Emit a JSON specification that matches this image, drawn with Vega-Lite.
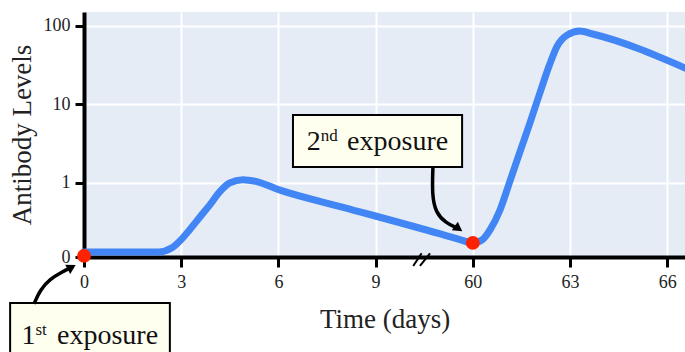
{
  "$schema": "https://vega.github.io/schema/vega-lite/v6.json",
  "width": 601,
  "height": 245,
  "autosize": {"type": "none"},
  "padding": {"left": 84, "top": 12, "right": 0, "bottom": 95},
  "background": "white",
  "config": {
    "view": {"fill": "#e5ecf6", "stroke": null},
    "font": "Liberation Serif",
    "axis": {
      "grid": true,
      "gridColor": "white",
      "gridWidth": 2,
      "domainColor": "black",
      "domainWidth": 4,
      "tickColor": "black",
      "tickWidth": 3,
      "labelFont": "Liberation Serif",
      "labelFontSize": 18,
      "labelColor": "#222",
      "titleFont": "Liberation Serif",
      "titleFontSize": 27,
      "titleFontWeight": "normal",
      "titleColor": "#222",
      "labelOverlap": false,
      "labelFlush": false
    }
  },
  "encoding": {
    "x": {
      "field": "day",
      "type": "quantitative",
      "scale": {"domain": [0, 10.5, 58.5, 66.55], "range": [0, 340.2, 340.2, 601], "nice": false, "zero": false},
      "axis": {"title": "Time (days)", "values": [0, 3, 6, 9, 60, 63, 66], "tickSize": 10, "labelPadding": 6, "titlePadding": 15}
    },
    "y": {
      "field": "level",
      "type": "quantitative",
      "scale": {"type": "log", "domain": [0.114, 150.7], "nice": false},
      "axis": {"title": "Antibody Levels", "values": [0.114, 1, 10, 100], "labelExpr": "datum.value < 0.5 ? '0' : format(datum.value, 'd')", "tickSize": 9, "labelPadding": 5, "titlePadding": 7}
    }
  },
  "layer": [
    {
      "data": {"values": [
        {"day": 0, "level": 0.132},
        {"day": 2.3, "level": 0.132},
        {"day": 2.7, "level": 0.148},
        {"day": 3.0, "level": 0.19},
        {"day": 3.27, "level": 0.256},
        {"day": 3.58, "level": 0.369},
        {"day": 3.89, "level": 0.531},
        {"day": 4.2, "level": 0.78},
        {"day": 4.5, "level": 1.0},
        {"day": 4.9, "level": 1.1},
        {"day": 5.3, "level": 1.05},
        {"day": 6.05, "level": 0.81},
        {"day": 8.0, "level": 0.49},
        {"day": 59.0, "level": 0.224},
        {"day": 59.6, "level": 0.19},
        {"day": 60.0, "level": 0.172},
        {"day": 60.3, "level": 0.19},
        {"day": 60.55, "level": 0.26},
        {"day": 60.84, "level": 0.453},
        {"day": 61.15, "level": 1.066},
        {"day": 61.46, "level": 2.52},
        {"day": 61.77, "level": 5.93},
        {"day": 62.07, "level": 14.0},
        {"day": 62.38, "level": 33.0},
        {"day": 62.6, "level": 55},
        {"day": 62.9, "level": 76},
        {"day": 63.3, "level": 86},
        {"day": 63.7, "level": 79},
        {"day": 66.55, "level": 29.2}
      ]},
      "mark": {"type": "line", "color": "#4285f4", "strokeWidth": 7, "interpolate": "monotone", "strokeCap": "round", "strokeJoin": "round"}
    },
    {
      "data": {"values": [
        {"day": 0, "level": 0.1175},
        {"day": 60, "level": 0.172}
      ]},
      "mark": {"type": "point", "filled": true, "color": "#ff2200", "opacity": 1, "size": 190, "clip": false}
    },
    {
      "data": {"values": [
        {"day": 10.16, "level": 0.0877, "day2": 10.42, "level2": 0.127},
        {"day": 10.37, "level": 0.0877, "day2": 58.68, "level2": 0.127}
      ]},
      "mark": {"type": "rule", "color": "black", "strokeWidth": 2, "clip": false},
      "encoding": {"x2": {"field": "day2"}, "y2": {"field": "level2"}}
    },
    {
      "data": {"values": [
        {"day": 6.45, "level": 7.35, "day2": 59.67, "level2": 1.6},
        {"day": -2.28, "level": 0.0296, "day2": 2.65, "level2": 0.004}
      ]},
      "mark": {"type": "rect", "fill": "#fffff0", "stroke": "black", "strokeWidth": 2, "clip": false},
      "encoding": {"x2": {"field": "day2"}, "y2": {"field": "level2"}}
    },
    {
      "data": {"values": [
        {"day": 7.31, "level": 2.63, "t": "2"},
        {"day": -1.5, "level": 0.00889, "t": "1"}
      ]},
      "mark": {"type": "text", "align": "right", "baseline": "alphabetic", "fontSize": 28, "font": "Liberation Serif", "color": "#111", "clip": false},
      "encoding": {"text": {"field": "t"}}
    },
    {
      "data": {"values": [
        {"day": 7.31, "level": 3.43, "t": "nd"},
        {"day": -1.5, "level": 0.0116, "t": "st"}
      ]},
      "mark": {"type": "text", "align": "left", "baseline": "alphabetic", "fontSize": 17, "font": "Liberation Serif", "color": "#111", "clip": false},
      "encoding": {"text": {"field": "t"}}
    },
    {
      "data": {"values": [
        {"day": 8.12, "level": 2.63, "t": "exposure"},
        {"day": -0.833, "level": 0.00889, "t": "exposure"}
      ]},
      "mark": {"type": "text", "align": "left", "baseline": "alphabetic", "fontSize": 28, "font": "Liberation Serif", "color": "#111", "clip": false},
      "encoding": {"text": {"field": "t"}}
    },
    {
      "data": {"values": [
        {"arrow": "a1", "i": 0, "day": -1.543, "level": 0.0288},
        {"arrow": "a1", "i": 1, "day": -1.358, "level": 0.0434},
        {"arrow": "a1", "i": 2, "day": -1.049, "level": 0.0598},
        {"arrow": "a1", "i": 3, "day": -0.679, "level": 0.0735},
        {"arrow": "a1", "i": 4, "day": -0.432, "level": 0.0826},
        {"arrow": "a2", "i": 0, "day": 58.77, "level": 1.6},
        {"arrow": "a2", "i": 1, "day": 58.74, "level": 0.703},
        {"arrow": "a2", "i": 2, "day": 58.86, "level": 0.415},
        {"arrow": "a2", "i": 3, "day": 59.17, "level": 0.309},
        {"arrow": "a2", "i": 4, "day": 59.51, "level": 0.267}
      ]},
      "mark": {"type": "line", "color": "black", "strokeWidth": 3.5, "interpolate": "basis", "clip": false},
      "encoding": {"detail": {"field": "arrow"}, "order": {"field": "i"}}
    },
    {
      "data": {"values": [
        {"day": -0.38, "level": 0.0845, "dir": 61},
        {"day": 59.56, "level": 0.262, "dir": 125}
      ]},
      "mark": {"type": "point", "shape": "triangle-up", "filled": true, "color": "black", "opacity": 1, "size": 110, "clip": false},
      "encoding": {"angle": {"field": "dir", "type": "quantitative", "scale": null}}
    }
  ]
}
